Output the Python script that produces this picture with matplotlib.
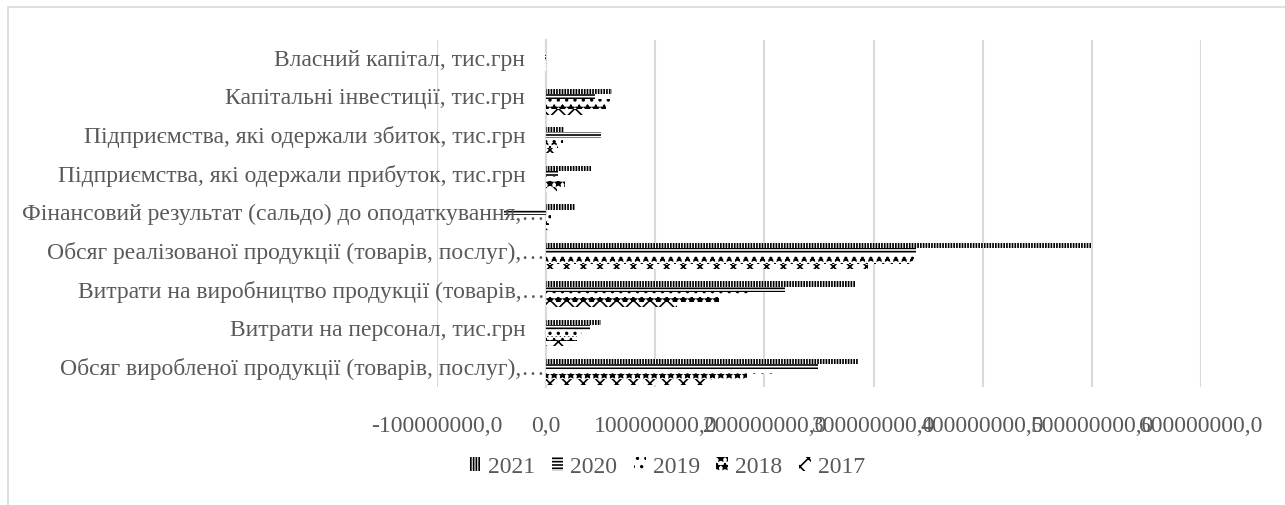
import matplotlib
matplotlib.use("Agg")
import matplotlib.pyplot as plt
from matplotlib.patches import Patch, Rectangle
from matplotlib.ticker import FuncFormatter
from matplotlib.transforms import ScaledTranslation

# categories, bottom to top (matplotlib barh order)
CATEGORIES = [
    "Обсяг виробленої продукції (товарів, послуг),…",
    "Витрати на персонал, тис.грн",
    "Витрати на виробництво продукції (товарів,…",
    "Обсяг реалізованої продукції (товарів, послуг),…",
    "Фінансовий результат (сальдо) до оподаткування,…",
    "Підприємства, які одержали прибуток, тис.грн",
    "Підприємства, які одержали збиток, тис.грн",
    "Капітальні інвестиції, тис.грн",
    "Власний капітал, тис.грн",
]

# values in тис.грн, same order as CATEGORIES
V2017 = [152e6, 22e6, 120e6, 295e6, 2e6, 10e6, 8e6, 34e6, -0.5e6]
V2018 = [184e6, 28e6, 158e6, 336e6, 3e6, 17e6, 11e6, 55e6, -1.0e6]
V2019 = [210e6, 33e6, 185e6, 337e6, 4e6, 13e6, 15e6, 63e6, -1.0e6]
V2020 = [249e6, 40e6, 219e6, 339e6, -39e6, 11e6, 50e6, 45e6, -1.5e6]
V2021 = [286e6, 50e6, 283e6, 500e6, 26e6, 41e6, 16e6, 60e6, -0.5e6]

SERIES = [("2017", V2017, "xx"), ("2018", V2018, "**"), ("2019", V2019, ".."),
          ("2020", V2020, "-----"), ("2021", V2021, "||||||")]
LEGEND_ORDER = ["2021", "2020", "2019", "2018", "2017"]
XTICKS = [-100e6, 0, 100e6, 200e6, 300e6, 400e6, 500e6, 600e6]

TXT = "#595959"
GRID = "#d9d9d9"
FS = 17
plt.rcParams["font.family"] = ["Liberation Serif", "DejaVu Serif"]
plt.rcParams["hatch.linewidth"] = 1.2
plt.rcParams["hatch.color"] = "black"

W, H = 1285, 506
fig = plt.figure(figsize=(W / 100, H / 100), dpi=100)
fig.patches.append(Rectangle((8 / W, -0.1), 1.2, 1.1 - 8 / H, transform=fig.transFigure,
                             fill=False, edgecolor=GRID, linewidth=1.2))

ax = fig.add_axes([437 / W, 1 - 388 / H, (1201 - 437) / W, (388 - 41) / H])
ax.set_xlim(-100e6, 600e6)
ax.set_ylim(-0.5, len(CATEGORIES) - 0.5)

h = 0.135
ypos = list(range(len(CATEGORIES)))
handles = {}
for i, (name, vals, hatch) in enumerate(SERIES):
    off = (i - 2) * h - 0.1
    ax.barh([y + off for y in ypos], vals, height=h, color="white",
            edgecolor="black", linewidth=0, hatch=hatch, zorder=3)
    handles[name] = Patch(facecolor="white", edgecolor="black", linewidth=0, hatch=hatch)

ax.set_xticks(XTICKS)
ax.grid(axis="x", color=GRID, linewidth=1.5, zorder=1)
ax.set_axisbelow(True)
for s in ["top", "right", "bottom"]:
    ax.spines[s].set_visible(False)
ax.spines["left"].set_position(("data", 0))
ax.spines["left"].set_color(GRID)
ax.spines["left"].set_linewidth(1.5)

# category labels sit next to the zero axis (Excel style)
ax.set_yticks([])
for y, lab in zip(ypos, CATEGORIES):
    dx = -1 if lab.endswith("…") else -21
    ax.text(0, y, lab, ha="right", va="center", fontsize=FS, color=TXT,
            transform=ax.transData + ScaledTranslation(dx / 100, 0, fig.dpi_scale_trans))

ax.xaxis.set_major_formatter(FuncFormatter(lambda v, p: f"{v:.1f}".replace(".", ",")))
ax.tick_params(axis="x", length=0, pad=20, labelsize=FS, labelcolor=TXT)

fig.legend([handles[n] for n in LEGEND_ORDER], LEGEND_ORDER, loc="center",
           bbox_to_anchor=(667 / W, 1 - 468 / H), ncol=5, frameon=False,
           fontsize=FS, labelcolor=TXT, handlelength=0.5, handleheight=0.5,
           handletextpad=0.3, columnspacing=0.7)

fig.savefig("out.png", dpi=100)
